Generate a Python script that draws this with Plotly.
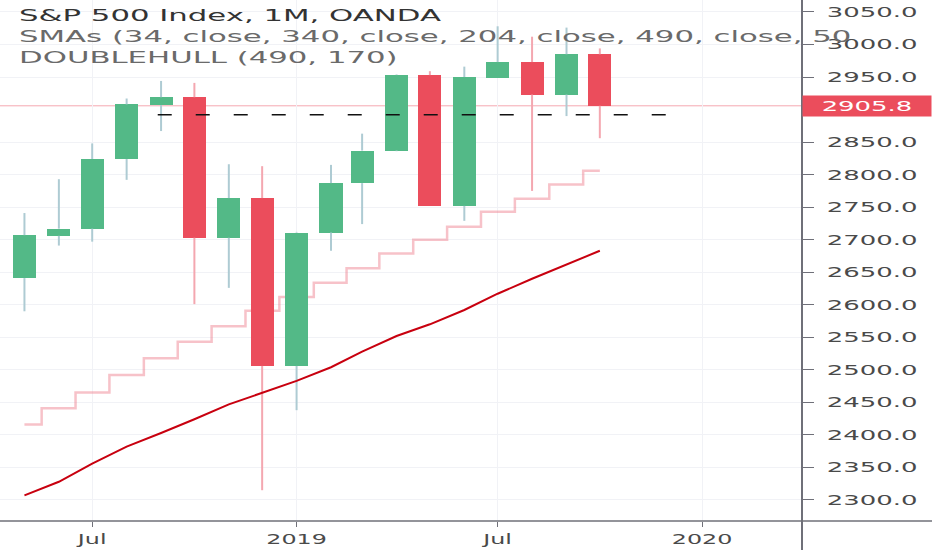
import plotly.graph_objects as go
import pandas as pd

# ---- data (monthly S&P 500, OANDA) ----
months = ["2018-05-01", "2018-06-01", "2018-07-01", "2018-08-01", "2018-09-01", "2018-10-01",
          "2018-11-01", "2018-12-01", "2019-01-01", "2019-02-01", "2019-03-01", "2019-04-01",
          "2019-05-01", "2019-06-01", "2019-07-01", "2019-08-01", "2019-09-01", "2019-10-01"]
open_ = [2641, 2706, 2717, 2824, 2907, 2919, 2703, 2764, 2506, 2711, 2787, 2837,
         2953, 2752, 2949, 2973, 2923, 2985]
high = [2741, 2793, 2848, 2917, 2944, 2941, 2816, 2813, 2712, 2815, 2863, 2954,
        2959, 2966, 3028, 3012, 3026, 2994]
low = [2590, 2691, 2697, 2792, 2867, 2601, 2626, 2315, 2438, 2683, 2724, 2836,
       2752, 2729, 2949, 2775, 2890, 2856]
close = [2707, 2717, 2824, 2908, 2919, 2703, 2764, 2506, 2711, 2787, 2837, 2953,
         2752, 2950, 2973, 2923, 2985, 2905.8]

# SMA (dark red) and DOUBLEHULL step line (light pink)
sma = [2307, 2328, 2356, 2382, 2403, 2424, 2447, 2465, 2483, 2504, 2528, 2552,
       2570, 2592, 2617, 2640, 2662, 2683]
hull = [2416, 2441, 2465, 2492, 2518, 2543, 2567, 2591, 2612, 2634, 2656, 2679,
        2700, 2720, 2743, 2763, 2785, 2806]

# horizontal dashed level
level_value = 2892
level_dates = ["2018-08-29", "2019-12-02"]

x_tick_vals = ["2018-07-01", "2019-01-01", "2019-07-01", "2020-01-01"]
x_tick_text = ["Jul", "2019", "Jul", "2020"]
y_tick_vals = [2300, 2350, 2400, 2450, 2500, 2550, 2600, 2650, 2700, 2750,
               2800, 2850, 2950, 3000, 3050]

title_lines = ["S&P 500 Index, 1M, OANDA",
               "SMAs (34, close, 340, close, 204, close, 490, close, 50",
               "DOUBLEHULL (490, 170)"]

# ---- styling ----
UP = "#53b987"
DOWN = "#eb4d5c"
UP_WICK = "#aecbd3"
DOWN_WICK = "#f4a7b0"
FONT = "DejaVu Sans"
X_RANGE = ["2018-04-09", "2020-03-31"]
Y_RANGE = [2267.7, 3068.4]

dates = pd.to_datetime(months)
up = [c >= o for o, c in zip(open_, close)]
body_lo = [min(o, c) for o, c in zip(open_, close)]
body_hi = [max(o, c) for o, c in zip(open_, close)]

fig = go.Figure()

# DOUBLEHULL step line (on the base axes, so it sits behind the candles)
fig.add_trace(go.Scatter(x=dates, y=hull, mode="lines", line_shape="hvh",
                         line=dict(color="rgba(238,120,135,0.45)", width=2.5),
                         showlegend=False))

# wicks (upper and lower shadows, outside the bodies) on the overlay axes
for is_up, col in ((True, UP_WICK), (False, DOWN_WICK)):
    xs, ys = [], []
    for d, h, l, bl, bh, u in zip(dates, high, low, body_lo, body_hi, up):
        if u == is_up:
            xs += [d, d, None, d, d, None]
            ys += [l, bl, None, bh, h, None]
    fig.add_trace(go.Scatter(x=xs, y=ys, mode="lines", xaxis="x2", yaxis="y2",
                             line=dict(color=col, width=2), hoverinfo="skip",
                             showlegend=False))

# bodies
fig.add_trace(go.Bar(
    x=dates, xaxis="x2", yaxis="y2",
    base=body_lo,
    y=[h - l for h, l in zip(body_hi, body_lo)],
    width=20.8 * 86400000,
    marker=dict(color=[UP if u else DOWN for u in up], line=dict(width=0)),
    showlegend=False,
))

# SMA line
fig.add_trace(go.Scatter(x=dates, y=sma, mode="lines", xaxis="x2", yaxis="y2",
                         line=dict(color="#c8000f", width=2), showlegend=False))
# dashed level
fig.add_trace(go.Scatter(x=pd.to_datetime(level_dates), y=[level_value] * len(level_dates),
                         xaxis="x2", yaxis="y2",
                         mode="lines", line=dict(color="#111111", width=1.5, dash="14px,24px"),
                         showlegend=False))

last = close[-1]
# last price line
fig.add_shape(type="line", xref="paper", x0=0, x1=1, yref="y", y0=last, y1=last,
              line=dict(color="#f5a9b1", width=1), layer="below")
# frame separators
fig.add_shape(type="line", xref="paper", x0=1, x1=1, yref="paper", y0=-0.06, y1=1,
              line=dict(color="#6f7079", width=2))
fig.add_shape(type="line", xref="paper", x0=0, x1=1.17, yref="paper", y0=0, y1=0,
              line=dict(color="#6f7079", width=1.5))

# price label (annotation index 0)
fig.add_annotation(xref="paper", x=1, xanchor="left", yref="y", y=last, yanchor="middle",
                   text=f"{last:.1f}", showarrow=False, bgcolor=DOWN, width=124,
                   borderpad=2, align="center",
                   font=dict(family=FONT, size=14, color="white"))

# legend texts
for i, t in enumerate(title_lines):
    fig.add_annotation(xref="paper", x=0, xanchor="left", xshift=17,
                       yref="paper", y=1, yanchor="middle", yshift=-16 - 21 * i,
                       text=t.replace("&", "&amp;"), showarrow=False,
                       font=dict(family=FONT, size=15,
                                 color="#333333" if i == 0 else "#6a6a6a"))

fig.update_layout(
    width=932, height=550,
    margin=dict(l=0, r=130, t=0, b=29),
    paper_bgcolor="white", plot_bgcolor="white",
    barmode="overlay", bargap=0,
    showlegend=False,
    xaxis=dict(range=X_RANGE, type="date",
               tickvals=x_tick_vals, ticktext=x_tick_text,
               showgrid=True, gridcolor="#f1f2f6", gridwidth=1,
               zeroline=False, showline=False,
               ticks="outside", ticklen=5, tickcolor="#6f7079",
               tickfont=dict(family=FONT, size=14, color="#4a4a4a")),
    yaxis=dict(side="right", range=Y_RANGE, tickvals=y_tick_vals,
               tickformat=".1f", showgrid=True, gridcolor="#f1f2f6", gridwidth=1,
               zeroline=False, showline=False,
               ticks="outside", ticklen=11, tickcolor="#6f7079",
               ticklabelstandoff=10,
               tickfont=dict(family=FONT, size=14, color="#4a4a4a")),
    xaxis2=dict(overlaying="x", matches="x", type="date", range=X_RANGE, visible=False),
    yaxis2=dict(overlaying="y", matches="y", side="right", range=Y_RANGE, visible=False),
)

# remove the page margin and widen the glyphs like the (horizontally stretched) reference
post = """
document.body.style.margin = '0';
var gd = document.getElementById('{plot_id}');
function stretch(sel, f, keepLeft) {
  gd.querySelectorAll(sel).forEach(function (t) {
    var w = t.getComputedTextLength();
    if (w > 0) {
      t.setAttribute('textLength', (w * f).toFixed(1));
      t.setAttribute('lengthAdjust', 'spacingAndGlyphs');
      if (keepLeft) {
        var anchor = window.getComputedStyle(t).textAnchor || t.getAttribute('text-anchor');
        var x = parseFloat(t.getAttribute('x') || '0');
        if (anchor === 'middle') {
          t.setAttribute('x', (x + (w * f - w) / 2).toFixed(1));
        }
      }
    }
  });
}
stretch('.xtick text', 1.7, false);
stretch('.ytick text', 1.85, false);
stretch('.annotation[data-index="0"] .annotation-text', 1.85, false);
stretch('.annotation[data-index="1"] .annotation-text', 2.05, true);
stretch('.annotation[data-index="2"] .annotation-text', 2.05, true);
stretch('.annotation[data-index="3"] .annotation-text', 2.05, true);
"""

fig.write_html("out.html", post_script=post, config={"displayModeBar": False})
